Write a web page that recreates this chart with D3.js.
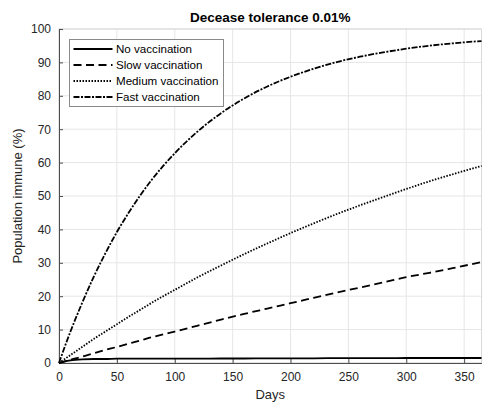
<!DOCTYPE html>
<html>
<head>
<meta charset="utf-8">
<script src="https://cdn.jsdelivr.net/npm/d3@7"></script>
<style>
  body { margin: 0; background: #fff; }
  svg { display: block; font-family: "Liberation Sans", Arial, sans-serif; }
</style>
</head>
<body>
<div id="graphic"></div>
<script>
// values
var days = [0, 5, 10, 20, 30, 40, 50, 60, 70, 80, 90, 100, 120, 140, 160, 180, 200, 220, 240, 260, 280, 300, 320, 340, 365];
var noVacc = [0, 0.5, 0.8, 1.1, 1.2, 1.2, 1.3, 1.3, 1.3, 1.3, 1.3, 1.3, 1.3, 1.35, 1.35, 1.4, 1.4, 1.4, 1.45, 1.45, 1.45, 1.5, 1.5, 1.5, 1.5];
var slowVacc = [0, 0.5, 1.0, 1.9, 2.9, 3.9, 4.8, 5.8, 6.7, 7.7, 8.6, 9.4, 11.2, 13.0, 14.7, 16.3, 17.9, 19.5, 21.1, 22.6, 24.1, 25.7, 27.0, 28.4, 30.2];
var mediumVacc = [0, 1.2, 2.4, 4.8, 7.2, 9.4, 11.6, 13.8, 15.9, 18.0, 20.0, 21.9, 25.7, 29.2, 32.6, 35.8, 38.9, 41.8, 44.6, 47.2, 49.7, 52.1, 54.4, 56.5, 59.0];
var fastVacc = [0, 4.9, 9.5, 18.0, 25.8, 32.8, 39.2, 44.9, 50.1, 54.8, 59.0, 62.8, 69.4, 74.8, 79.2, 82.8, 85.7, 88.1, 90.1, 91.7, 93.0, 94.1, 95.0, 95.7, 96.4];

var seriesNames = ["No vaccination", "Slow vaccination", "Medium vaccination", "Fast vaccination"];
var xTicks = [0, 50, 100, 150, 200, 250, 300, 350];
var yTicks = [0, 10, 20, 30, 40, 50, 60, 70, 80, 90, 100];

var width = 483, height = 403;
var margin = {top: 29, right: 1, bottom: 40, left: 59};

var series = [
	{name: seriesNames[0], values: noVacc, dash: null},
	{name: seriesNames[1], values: slowVacc, dash: "8,4.5"},
	{name: seriesNames[2], values: mediumVacc, dash: "1.5,1.5"},
	{name: seriesNames[3], values: fastVacc, dash: "6,1.5,2,1.5"}
];

var svg = d3.select("#graphic").append("svg")
	.attr("width", width)
	.attr("height", height);

var x = d3.scaleLinear().domain([0, 365]).range([margin.left, width - margin.right - 0.5]);
var y = d3.scaleLinear().domain([0, 100]).range([height - margin.bottom, margin.top]);

var axisColor = "#262626";

// grid
var grid = svg.append("g").attr("class", "grid");
grid.selectAll(".gx").data(xTicks).enter().append("line")
	.attr("x1", function(d) { return x(d); })
	.attr("x2", function(d) { return x(d); })
	.attr("y1", y(0)).attr("y2", y(100))
	.attr("stroke", "#e6e6e6").attr("stroke-width", 1);
grid.selectAll(".gy").data(yTicks).enter().append("line")
	.attr("x1", x(0)).attr("x2", x(365))
	.attr("y1", function(d) { return y(d); })
	.attr("y2", function(d) { return y(d); })
	.attr("stroke", "#e6e6e6").attr("stroke-width", 1);

// box
svg.append("rect")
	.attr("x", x(0)).attr("y", y(100))
	.attr("width", x(365) - x(0)).attr("height", y(0) - y(100))
	.attr("fill", "none").attr("stroke", "#d0d0d0").attr("stroke-width", 0.8);

// axes
var xAxis = d3.axisBottom(x).tickValues(xTicks).tickSizeInner(-4).tickSizeOuter(0).tickPadding(9);
var yAxis = d3.axisLeft(y).tickValues(yTicks).tickSizeInner(-4).tickSizeOuter(0).tickPadding(8);

var gx = svg.append("g").attr("transform", "translate(0," + y(0) + ")").call(xAxis);
var gy = svg.append("g").attr("transform", "translate(" + x(0) + ",0)").call(yAxis);

[gx, gy].forEach(function(g) {
	g.select(".domain").attr("stroke", "#4d4d4d").attr("stroke-width", 1);
	g.selectAll(".tick line").attr("stroke", "#4d4d4d");
	g.selectAll(".tick text").attr("fill", axisColor).style("font-size", "12px");
});

// lines
var line = d3.line()
	.x(function(d, i) { return x(days[i]); })
	.y(function(d) { return y(d); })
	.curve(d3.curveMonotoneX);

svg.append("g").selectAll("path")
	.data(series)
	.enter().append("path")
	.attr("d", function(d) { return line(d.values); })
	.attr("fill", "none")
	.attr("stroke", "#000")
	.attr("stroke-width", 1.8)
	.attr("stroke-dasharray", function(d) { return d.dash; });

// title and labels
svg.append("text")
	.attr("x", (x(0) + x(365)) / 2).attr("y", 22)
	.attr("text-anchor", "middle")
	.style("font-size", "13.5px").style("font-weight", "bold")
	.attr("fill", "#000")
	.text("Decease tolerance 0.01%");

svg.append("text")
	.attr("x", (x(0) + x(365)) / 2).attr("y", 399)
	.attr("text-anchor", "middle")
	.style("font-size", "13px")
	.attr("fill", axisColor)
	.text("Days");

svg.append("text")
	.attr("transform", "translate(22," + ((y(0) + y(100)) / 2) + ") rotate(-90)")
	.attr("text-anchor", "middle")
	.style("font-size", "13px")
	.attr("fill", axisColor)
	.text("Population immune (%)");

// legend
var legend = svg.append("g").attr("transform", "translate(69.5,39.5)");
legend.append("rect")
	.attr("width", 154).attr("height", 67)
	.attr("fill", "#fff").attr("stroke", "#8a8a8a").attr("stroke-width", 1);

var entries = legend.selectAll(".entry")
	.data(series)
	.enter().append("g")
	.attr("transform", function(d, i) { return "translate(0," + (9.5 + i * 16) + ")"; });

entries.append("line")
	.attr("x1", 4).attr("x2", 43)
	.attr("stroke", "#000").attr("stroke-width", 1.8)
	.attr("stroke-dasharray", function(d) { return d.dash; });

entries.append("text")
	.attr("x", 46.5).attr("y", 4)
	.style("font-size", "11.6px")
	.attr("fill", "#000")
	.text(function(d) { return d.name; });
</script>
</body>
</html>
